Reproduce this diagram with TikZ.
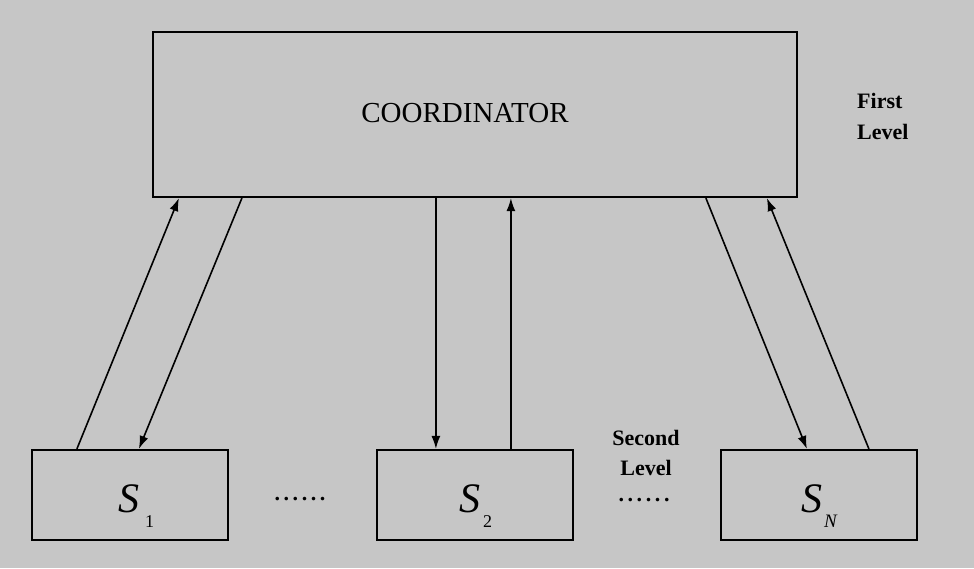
\documentclass[tikz,border=0pt]{standalone}
\usepackage{fontspec}
\setmainfont{Liberation Serif}
\usetikzlibrary{arrows.meta,calc}
\definecolor{bgcol}{RGB}{198,198,198}
\newcommand{\dotrow}{.\hspace{3.6pt}.\hspace{3.6pt}.\hspace{3.6pt}.\hspace{3.6pt}.\hspace{3.6pt}.}
\tikzset{
  box/.style={draw=black, line width=2.2pt, rectangle, inner sep=0pt},
  sbox/.style={box, minimum width=196pt, minimum height=90pt},
  arr/.style={draw=black, line width=1.6pt, -{Latex[length=13pt,width=9pt]}},
  lvl/.style={font=\fontsize{22}{31}\selectfont\bfseries, inner sep=0pt},
  dots/.style={font=\fontsize{22}{22}\selectfont\bfseries, inner sep=0pt, anchor=base},
  slab/.style={inner sep=0pt, anchor=base west, font=\fontsize{42}{42}\selectfont}
}
\begin{document}
\begin{tikzpicture}[x=1pt,y=-1pt]
\fill[bgcol] (0,0) rectangle (974,568);
\useasboundingbox (0,0) rectangle (974,568);
% boxes
\node[box, minimum width=644pt, minimum height=165pt] (coord) at (475,114.5) {};
\node[inner sep=0pt, font=\fontsize{29}{29}\selectfont] (coordtext) at (465,113) {COORDINATOR};
\node[sbox] (S1) at (130,495) {};
\node[sbox] (S2) at (475,495) {};
\node[sbox] (SN) at (819,495) {};
% labels inside small boxes
\node[slab] (l1) at (118,512) {\itshape S\hspace{6pt}\raisebox{-15pt}{\fontsize{18}{18}\selectfont\upshape 1}};
\node[slab] (l2) at (459,512) {\itshape S\hspace{3pt}\raisebox{-15pt}{\fontsize{18}{18}\selectfont\upshape 2}};
\node[slab] (lN) at (801,512) {\itshape S\hspace{2pt}\raisebox{-15pt}{\fontsize{19}{19}\selectfont N}};
% level labels
\node[lvl, align=left, anchor=north west] (first) at (857,93) {First\\Level};
\node[lvl, font=\fontsize{22}{30}\selectfont\bfseries, align=center, anchor=north] (second) at (646,430) {Second\\Level};
\node[dots] (d1) at (300,500) {\dotrow};
\node[dots] (d2) at (644,501) {\dotrow};
% connectors
\draw[arr] ([xshift=46pt]S1.north west) -- ([xshift=27pt]coord.south west);
\draw[arr] ([xshift=90pt]coord.south west) -- ([xshift=108pt]S1.north west);
\draw[arr] ([xshift=284pt]coord.south west) -- ([xshift=60pt]S2.north west);
\draw[arr] ([xshift=135pt]S2.north west) -- ([xshift=359pt]coord.south west);
\draw[arr] ([xshift=554pt]coord.south west) -- ([xshift=87pt]SN.north west);
\draw[arr] ([xshift=149pt]SN.north west) -- ([xshift=615pt]coord.south west);
\end{tikzpicture}
\end{document}
